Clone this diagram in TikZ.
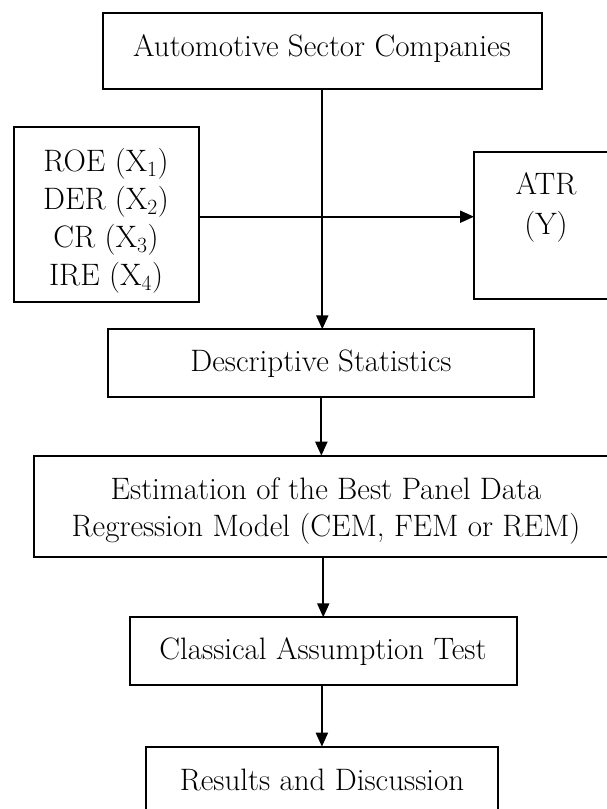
\documentclass[tikz,border=0pt]{standalone}
\usepackage{fontspec}
\usetikzlibrary{arrows.meta}
\begin{document}
\begin{tikzpicture}[x=1pt,y=-1pt,
  box/.style={draw, line width=2pt, rectangle, inner sep=0pt, outer sep=0pt},
  lbl/.style={font=\fontsize{31}{36}\selectfont, anchor=base, inner sep=0pt},
  arr/.style={line width=2pt, -{Triangle[length=14pt,width=12pt]}}]
\useasboundingbox (0,0) rectangle (607,809);
\clip (0,0) rectangle (607,809);
% boxes
\node[box, minimum width=439.4pt, minimum height=76.6pt] (top) at (322.3,51) {};
\node[box, minimum width=185.9pt, minimum height=175pt] (left) at (106.45,214.2) {};
\node[box, minimum width=144pt, minimum height=147.6pt] (atr) at (546,225.5) {};
\node[box, minimum width=425.9pt, minimum height=67.4pt] (desc) at (321.35,363) {};
\node[box, minimum width=584pt, minimum height=101pt] (est) at (326,506.2) {};
\node[box, minimum width=387.1pt, minimum height=67.7pt] (cls) at (323.25,651.15) {};
\node[box, minimum width=351.2pt, minimum height=82pt] (res) at (321.9,787.7) {};
% labels
\node[lbl] (ttop) at (322,56) {Automotive Sector Companies};
\node[lbl] (tl1) at (106,171) {ROE (X\textsubscript{1})};
\node[lbl] (tl2) at (106,209) {DER (X\textsubscript{2})};
\node[lbl] (tl3) at (106,247) {CR (X\textsubscript{3})};
\node[lbl] (tl4) at (106,285) {IRE (X\textsubscript{4})};
\node[lbl] (ta1) at (546,194) {ATR};
\node[lbl] (ta2) at (546,234) {(Y)};
\node[lbl] (tdesc) at (321,371) {Descriptive Statistics};
\node[lbl] (test1) at (326,499) {Estimation of the Best Panel Data};
\node[lbl] (test2) at (326,536) {Regression Model (CEM, FEM or REM)};
\node[lbl] (tcls) at (323,659) {Classical Assumption Test};
\node[lbl] (tres) at (322,790) {Results and Discussion};
% connectors
\coordinate (hy) at (0,216.7);
\draw[arr] (top.south) -- (top.south |- desc.north);
\draw[arr] (left.east |- hy) -- (atr.west |- hy);
\draw[arr] (desc.south) -- (desc.south |- est.north);
\draw[arr] (cls.north |- est.south) -- (cls.north);
\draw[arr] (res.north |- cls.south) -- (res.north);
\end{tikzpicture}
\end{document}
